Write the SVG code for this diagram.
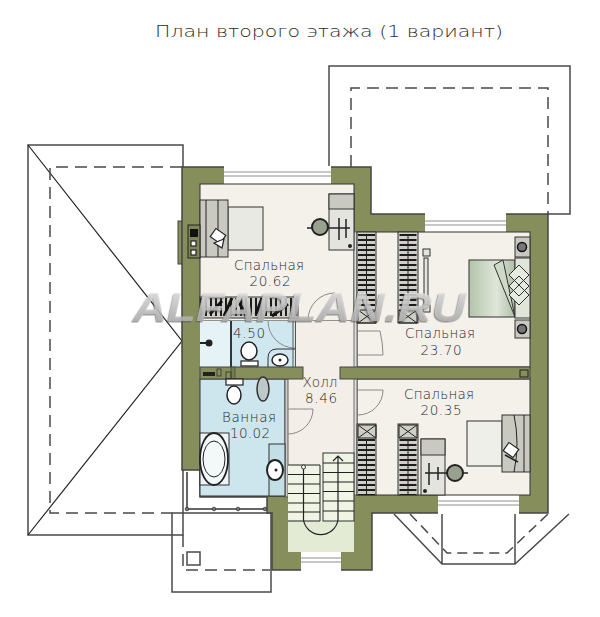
<svg xmlns="http://www.w3.org/2000/svg" width="600" height="617" viewBox="0 0 600 617">
<defs>
<linearGradient id="bedG" x1="0" x2="1" y1="0" y2="0"><stop offset="0" stop-color="#b3c5ab"/><stop offset="0.6" stop-color="#dfe6da"/><stop offset="1" stop-color="#aebfa6"/></linearGradient>
<linearGradient id="wmG" x1="0" x2="0" y1="0" y2="1"><stop offset="0.15" stop-color="#e2e2e2"/><stop offset="0.95" stop-color="#a9a9a9"/></linearGradient>
<filter id="wm" x="-5%" y="-20%" width="110%" height="150%"><feDropShadow dx="-1.200" dy="1.500" stdDeviation="0.700" flood-color="#555" flood-opacity="0.7"/></filter>
</defs>
<style>
text{font-family:"DejaVu Sans","Open Sans",sans-serif;fill:#2b2b2b}
.lbl{font-size:13.500px;font-weight:200;text-anchor:middle}
.title{font-size:16.500px;font-weight:200}
.o{fill:none;stroke:#4a4a4a;stroke-width:1.500}
.d{fill:none;stroke:#4a4a4a;stroke-width:1.500;stroke-dasharray:12 7}
.thin{fill:none;stroke:#222;stroke-width:1.200}
.k{fill:none;stroke:#222;stroke-width:1}
.arc{fill:none;stroke:#8a8a8a;stroke-width:1}
.win{fill:#fff}
.winl{stroke:#b5b5b5;stroke-width:1.500}
.hang{stroke:#1c1c1c;stroke-dasharray:2 3;fill:none}
.cl{fill:#cfcfc8;stroke:#333;stroke-width:1}
.gr{fill:#c9c9c2;stroke:#333;stroke-width:1}
.lt{fill:#e4e4de;stroke:#333;stroke-width:1}
.wh{fill:#fff;stroke:#222;stroke-width:1.200}
.bd{fill:#222}
.post{fill:#777;stroke:#333;stroke-width:0.800}
</style>

<text class="title" x="155" y="37" textLength="348" lengthAdjust="spacingAndGlyphs">План второго этажа (1 вариант)</text>

<g id="roof">
<path class="o" d="M329 167V66H570V214H548"/>
<path class="d" d="M351 167V88H548V214"/>
<path class="o" d="M183 167V145H28V535H183V470"/>
<path class="thin" d="M28 145L182 341L28 535"/>
<path class="d" d="M182 167H50V513H172"/>
<rect class="o" x="172" y="513" width="99" height="79"/>
<path class="d" d="M183 535V570H270"/>
<rect class="o" x="187" y="552" width="13" height="13"/>
<path d="M187 472V509H267" fill="none" stroke="#333" stroke-width="1.500"/>
<circle class="post" cx="187" cy="509" r="1.800"/><circle class="post" cx="214" cy="509" r="1.800"/><circle class="post" cx="238" cy="509" r="1.800"/><circle class="post" cx="265" cy="509" r="1.800"/>
<path d="M394 514L442 564H515L569 514" class="o"/>
<path d="M442 514V564M515 514V564" class="o"/>
<path class="d" d="M410 514L447 553H507L548 514" style="stroke-dasharray:10 6"/>
</g>

<g id="walls">
<rect x="178" y="221" width="6" height="43" fill="#868f5b" stroke="#444" stroke-width="1"/>
<path d="M182 167H371V214H548V513H372V570H272V513H267V497H200V470H182Z" fill="#868f5b" stroke="#444" stroke-width="1.500"/>
</g>

<g id="windows">
<rect class="win" x="224" y="166" width="107" height="19"/><path class="winl" d="M224 172H331M224 176H331"/>
<rect class="win" x="425" y="213" width="81" height="20"/><path class="winl" d="M425 221H506M425 225H506"/>
<rect class="win" x="438" y="494" width="81" height="20"/><path class="winl" d="M438 501H519M438 505H519"/>
<rect class="win" x="301" y="552" width="40" height="19"/><path class="winl" d="M301 558H341M301 562H341"/>
</g>

<g id="rooms">
<rect x="200" y="184" width="154" height="137" fill="#f4f0ea" stroke="#333" stroke-width="1"/>
<rect x="357" y="232" width="173" height="135" fill="#f4f0ea" stroke="#333" stroke-width="1"/>
<rect x="357" y="379" width="173" height="116" fill="#f4f0ea" stroke="#333" stroke-width="1"/>
<rect x="295" y="321" width="59" height="144" fill="#f4eee8"/>
<rect x="288" y="379" width="66" height="86" fill="#f4eee8"/>
<rect x="200" y="379" width="85" height="117" fill="#cde5ec" stroke="#333" stroke-width="1"/>
<rect x="285" y="379" width="3" height="118" fill="#ccc" stroke="#444" stroke-width="0.800"/>
<rect x="200" y="321" width="31" height="46" fill="#e6f3f6"/>
<rect x="231" y="321" width="64" height="46" fill="#cfe7ee"/>
<path d="M231 321V367" stroke="#222" stroke-width="1.800"/>
<path d="M293 321V367M295.500 321V367" stroke="#555" stroke-width="1"/>
<rect x="354" y="232" width="3" height="263" fill="#ddd" stroke="#555" stroke-width="0.800"/>
<rect x="200" y="367" width="103" height="12" fill="#868f5b" stroke="#444" stroke-width="1"/>
<rect x="340" y="367" width="190" height="12" fill="#868f5b" stroke="#444" stroke-width="1"/>
<rect x="520" y="370" width="8" height="7" fill="none" stroke="#222" stroke-width="1"/>
<rect x="231" y="367" width="4" height="12" fill="#777c50" stroke="#333" stroke-width="0.600"/>
<rect x="203" y="372" width="12" height="4" fill="#222"/>
<rect x="217" y="369" width="4" height="7" fill="none" stroke="#333" stroke-width="0.800"/>
<rect x="226" y="372" width="5" height="7" fill="none" stroke="#333" stroke-width="0.800"/>
</g>

<g id="doors">
<path class="arc" d="M308 320A27 27 0 0 1 335 293"/>
<path class="arc" d="M268 321A27 27 0 0 0 295 348"/>
<path class="arc" d="M358 331H380Q383 344 383 355H358"/>
<path class="arc" d="M358 390H383A25 25 0 0 1 358 415"/>
<path class="arc" d="M288 409H313A25 25 0 0 1 288 434"/>
</g>

<g id="stairs">
<rect x="288" y="465" width="66" height="56" fill="#eff4e4"/>
<rect x="288" y="521" width="66" height="31" fill="#e3ebd5"/>
<rect x="323" y="453" width="31" height="68" fill="#eff4e4" stroke="#333" stroke-width="1"/>
<path class="k" d="M288 465H320V521H288M288 474.500H320M288 484H320M288 493.500H320M288 503H320M288 512H320M323 463H354M323 472.500H354M323 482H354M323 491.500H354M323 501H354M323 511H354"/>
<path class="thin" d="M303.500 469V520A17.500 17.500 0 0 0 338 520V457M333 461L338 456L343 461"/>
<circle cx="303.500" cy="467" r="2" fill="#fff" stroke="#333"/>
</g>

<g id="closets">
<rect class="cl" x="357" y="232" width="19" height="91"/>
<rect class="cl" x="398" y="232" width="20" height="91"/>
<line class="hang" x1="366.500" y1="234" x2="366.500" y2="309" stroke-width="17"/>
<line class="hang" x1="408" y1="234" x2="408" y2="309" stroke-width="17"/>
<path class="k" d="M366.500 234V309M408 234V309"/>
<path class="k" d="M358 310H376V323H358ZM358 310L376 323M376 310L358 323M399 310H417V323H399ZM399 310L417 323M417 310L399 323"/>
<rect class="cl" x="357" y="424" width="19" height="71"/>
<rect class="cl" x="398" y="424" width="20" height="71"/>
<line class="hang" x1="366.500" y1="439" x2="366.500" y2="495" stroke-width="17"/>
<line class="hang" x1="408" y1="439" x2="408" y2="495" stroke-width="17"/>
<path class="k" d="M366.500 439V495M408 439V495"/>
<path class="k" d="M358 425H376V438H358ZM358 425L376 438M376 425L358 438M399 425H417V438H399ZM399 425L417 438M417 425L399 438"/>
<rect class="cl" x="200" y="297" width="98" height="21"/>
<line class="hang" x1="200" y1="307" x2="298" y2="307" stroke-width="18"/>
<path d="M210 314L222 301M224 316L232 298M238 300L246 316M256 314L262 298M272 316L288 304" stroke="#111" stroke-width="3" fill="none"/>
</g>

<g id="furniture">
<rect class="lt" x="228" y="207" width="35" height="43" style="fill:#e9e9e3"/>
<rect class="gr" x="200" y="200" width="28" height="57"/>
<path class="k" d="M206 200V257M218 200V257"/>
<rect class="wh" x="-6" y="-5" width="12" height="10" transform="translate(218 236) rotate(35)"/>
<path class="wh" d="M214 243L224 239L222 248Z"/>
<rect x="188" y="225" width="12" height="33" fill="#7d8655" stroke="#222" stroke-width="1"/>
<rect x="190" y="229" width="8" height="8" fill="#111"/>
<rect class="wh" x="191" y="241" width="5" height="5"/>
<rect class="wh" x="191" y="250" width="5" height="5"/>
<rect class="lt" x="329" y="194" width="25" height="56"/>
<rect class="gr" x="329" y="194" width="25" height="15"/>
<path d="M307 228H350M339 218V240M346 219V238" stroke="#222" stroke-width="1.500" fill="none"/>
<circle cx="320" cy="227" r="8" fill="#9aa08f" stroke="#222" stroke-width="2"/>
<circle cx="350" cy="246" r="2" fill="#222"/>

<rect x="469" y="260" width="46" height="57" fill="url(#bedG)" stroke="#333" stroke-width="1"/>
<path class="lt" d="M494 265L503 260L515 317Z" style="fill:#cfd9c8"/>
<rect x="515" y="258" width="15" height="60" fill="#dfe5d9" stroke="#333" stroke-width="1"/>
<path d="M519 265L529 275L519 285L509 275ZM519 276L529 286L519 296L509 286ZM519 285L529 295L519 305L509 295Z" fill="#e6ebe0" stroke="#333" stroke-width="1"/>
<rect class="gr" x="515" y="237" width="15" height="20"/>
<rect class="gr" x="515" y="320" width="15" height="18"/>
<circle cx="522" cy="247" r="4.500" fill="#777" stroke="#111" stroke-width="1.500"/>
<circle cx="522" cy="329" r="4.500" fill="#777" stroke="#111" stroke-width="1.500"/>
<rect class="lt" x="424" y="258" width="4" height="47"/>
<rect class="lt" x="423" y="249" width="7" height="7"/>
<rect class="lt" x="423" y="305" width="7" height="7"/>

<rect class="lt" x="467" y="421" width="35" height="45" style="fill:#efefe9"/>
<rect class="gr" x="502" y="415" width="28" height="57"/>
<path class="k" d="M514 415Q520 443 514 472M524 415V472"/>
<rect class="wh" x="-6" y="-5" width="12" height="10" transform="translate(511 450) rotate(35)"/>
<path d="M505 455L518 462" stroke="#222" stroke-width="1.500"/>
<rect class="lt" x="421" y="439" width="24" height="56"/>
<rect class="gr" x="421" y="439" width="24" height="16"/>
<path d="M425 473H468M429 463V485M438 467V480" stroke="#222" stroke-width="1.500" fill="none"/>
<circle cx="455" cy="473" r="8" fill="#9aa08f" stroke="#222" stroke-width="2"/>
<circle cx="425" cy="491" r="2" fill="#222"/>

<circle cx="209" cy="343" r="3.500" class="bd"/><path d="M200 343H209" stroke="#222" stroke-width="2"/>
<rect class="wh" x="241" y="361" width="17" height="5"/>
<ellipse class="wh" cx="249" cy="351" rx="8" ry="9" style="stroke-width:1.500"/>
<path d="M268 367V358Q268 349 277 349H295" fill="none" stroke="#333" stroke-width="1"/>
<ellipse class="wh" cx="280" cy="360" rx="8" ry="6" style="stroke-width:1.500"/>
<circle cx="280" cy="360" r="1.500" class="bd"/>

<rect class="wh" x="226" y="379" width="17" height="6"/>
<ellipse class="wh" cx="234" cy="395" rx="7" ry="9" style="stroke-width:1.500"/>
<ellipse cx="263" cy="389" rx="6" ry="12" fill="#bfc8c8" stroke="#333" stroke-width="1.500"/>
<rect x="200" y="433" width="29" height="52" fill="#eef5f6" stroke="#333" stroke-width="1"/>
<ellipse cx="214" cy="459" rx="14" ry="26" fill="#f3f8f9" stroke="#222" stroke-width="1.800"/>
<ellipse cx="214" cy="459" rx="11" ry="18" fill="none" stroke="#222" stroke-width="1"/>
<rect x="269" y="444" width="16" height="52" fill="#c3dfe6" stroke="#333" stroke-width="1"/>
<ellipse class="wh" cx="275" cy="470" rx="8" ry="10" style="stroke-width:2"/>
<circle cx="276" cy="470" r="1.500" class="bd"/>
</g>

<text x="133" y="321" textLength="333" lengthAdjust="spacingAndGlyphs" style="font-family:'Liberation Sans',sans-serif;font-size:41px;font-weight:700;font-style:italic;fill:url(#wmG);fill-opacity:.8;filter:url(#wm)">ALFAPLAN.RU</text>

<g id="labels">
<text class="lbl" x="269" y="270" textLength="70">Спальная</text>
<text class="lbl" x="270" y="286" textLength="41">20.62</text>
<text class="lbl" x="249" y="338" textLength="32">4.50</text>
<text class="lbl" x="440" y="338" textLength="70">Спальная</text>
<text class="lbl" x="441" y="355" textLength="41">23.70</text>
<text class="lbl" x="439" y="399" textLength="70">Спальная</text>
<text class="lbl" x="441" y="415" textLength="41">20.35</text>
<text class="lbl" x="320" y="387" textLength="35">Холл</text>
<text class="lbl" x="321" y="403" textLength="32">8.46</text>
<text class="lbl" x="249" y="422" textLength="54">Ванная</text>
<text class="lbl" x="250" y="438" textLength="40">10.02</text>
</g>
</svg>
